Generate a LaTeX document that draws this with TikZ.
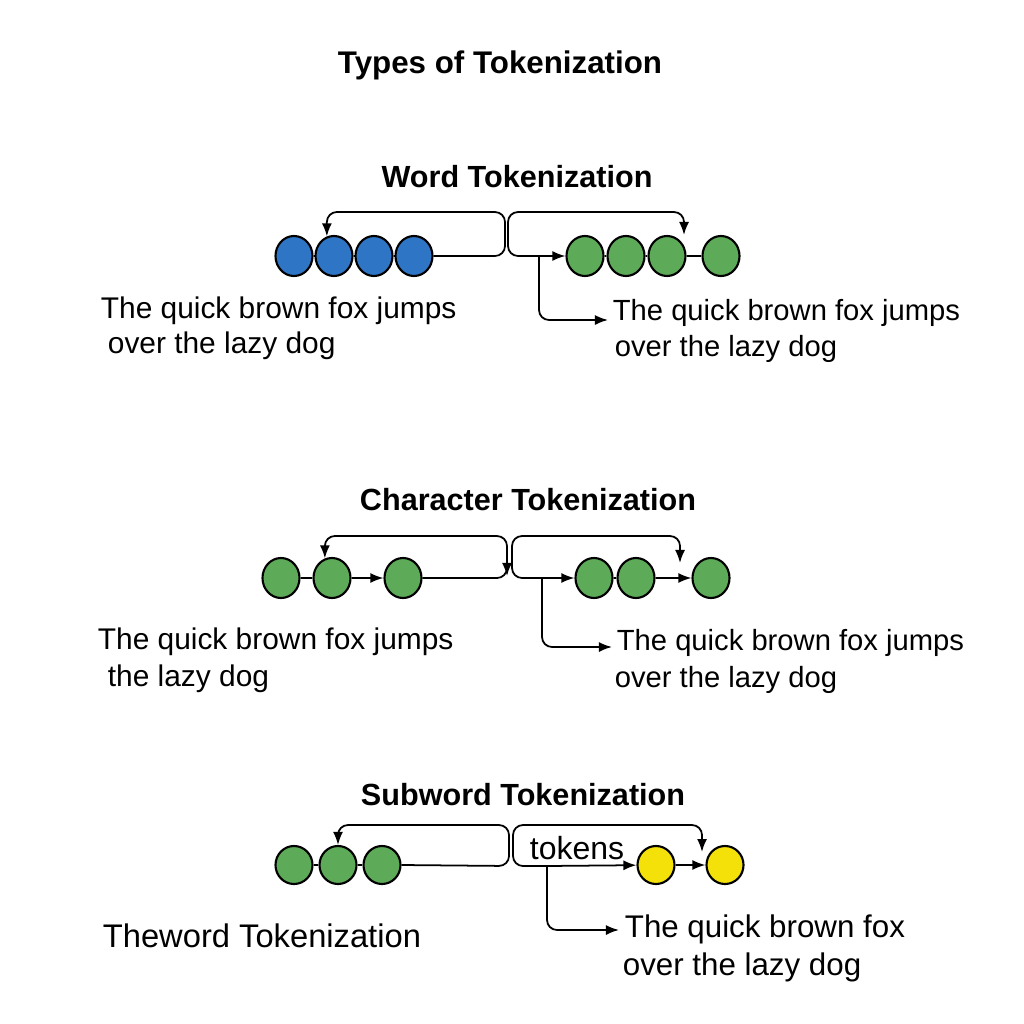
\documentclass[tikz,border=0pt]{standalone}
\usepackage{fontspec}
\setmainfont{Liberation Sans}
\usetikzlibrary{shapes.geometric, arrows.meta}
\definecolor{tokblue}{HTML}{2F75C6}
\definecolor{tokgreen}{HTML}{5DAA58}
\definecolor{tokyellow}{HTML}{F5E10A}

\begin{document}
\begin{tikzpicture}[x=0.01cm, y=-0.01cm, line width=0.5pt,
                    >={Latex[length=0.13cm, width=0.1cm]},
                    tok/.style = {draw, ellipse, inner sep=0pt, line width=0.6pt,
                        minimum width=0.37cm, minimum height=0.40cm},
                    hd/.style = {font=\bfseries\fontsize{8.7pt}{10pt}\selectfont, anchor=base},
                    txt/.style = {font=\fontsize{8.5pt}{10pt}\selectfont, anchor=base west,
                        inner sep=0pt},
                    roundpath/.style = {rounded corners=0.1cm}]
        \useasboundingbox (0,0) rectangle (1024,1024);
        \node[hd, font=\bfseries\fontsize{8.9pt}{10pt}\selectfont] (title) at (500,73) {Types of Tokenization};

        % word tokenization
        \node[hd] (wordhd) at (517,187) {Word Tokenization};
        \foreach \x [count=\i] in {294,334,374,414}
            \node[tok, fill=tokblue] (w\i) at (\x,256) {};
        \foreach \x [count=\i] in {585,626,667,721}
            \node[tok, fill=tokgreen] (g\i) at (\x,256) {};
        \draw (w1) -- (w2) (w2) -- (w3) (w3) -- (w4);
        \draw (g1) -- (g2) (g2) -- (g3) (g3) -- (g4);
        \coordinate (wj) at (539,256);
        \coordinate (wtip) at (684,235);
        \draw[->, roundpath] (w4.east) -- (505,256) -- (505,212) -| (w2.110);
        \draw[->, roundpath] (wj) -- (508,256) -- (508,212) -- (684,212) -- (wtip);
        \draw[->] (wj) -- (g1);

        \node[txt] (wLa) at (100,318) {The quick brown fox jumps};
        \node[txt] (wLb) at (107,353) {over the lazy dog};
        \node[txt, font=\fontsize{8.3pt}{10pt}\selectfont] (wRa) at (612,320) {The quick brown fox jumps};
        \node[txt, font=\fontsize{8.3pt}{10pt}\selectfont] (wRb) at (614,356) {over the lazy dog};
        \draw[->, roundpath] (wj) |- ([xshift=-0.04cm]wRa.base west);

        % character tokenization
        \node[hd] (charhd) at (528,510) {Character Tokenization};
        \foreach \x [count=\i] in {281,332,403}
            \node[tok, fill=tokgreen] (c\i) at (\x,578) {};
        \foreach \x [count=\i] in {594,636,711}
            \node[tok, fill=tokgreen] (r\i) at (\x,578) {};
        \draw (c1) -- (c2);
        \draw[->] (c2) -- (c3);
        \draw (r1) -- (r2);
        \draw[->] (r2) -- (r3);
        \coordinate (cj) at (542,578);
        \coordinate (ctip) at (680,563);
        \draw[<->, roundpath] (c2.110) |- (507,536) -- (507,576);
        \draw[roundpath] (c3.east) -- (507,578) -- (507,562);
        \draw[->, roundpath] (cj) -- (512,578) -- (512,536) -- (680,536) -- (ctip);
        \draw[->] (cj) -- (r1);

        \node[txt] (cLa) at (97,649) {The quick brown fox jumps};
        \node[txt] (cLb) at (107,686) {the lazy dog};
        \node[txt, font=\fontsize{8.3pt}{10pt}\selectfont] (cRa) at (616,650) {The quick brown fox jumps};
        \node[txt, font=\fontsize{8.3pt}{10pt}\selectfont] (cRb) at (614,687) {over the lazy dog};
        \draw[->, roundpath] (cj) |- ([xshift=-0.04cm, yshift=0.03cm]cRa.base west);

        % subword tokenization
        \node[hd] (subhd) at (523,805) {Subword Tokenization};
        \foreach \x [count=\i] in {294,338,382}
            \node[tok, fill=tokgreen, minimum height=0.38cm] (s\i) at (\x,865) {};
        \foreach \x [count=\i] in {656,725}
            \node[tok, fill=tokyellow, minimum height=0.38cm] (y\i) at (\x,865) {};
        \draw (s1) -- (s2) (s2) -- (s3);
        \draw[->] (y1) -- (y2);
        \coordinate (sj) at (547,866);
        \coordinate (stip) at (702,852);
        \draw[->, roundpath] (s3.east) -- (509,866) -- (509,825) -| (s2.north);
        \draw[->, roundpath] (sj) -- (513,866) -- (513,825) -- (702,825) -- (stip);
        \draw[->] (sj) -- (y1);
        \node[font=\fontsize{9.1pt}{10pt}\selectfont] (tokens) at (577,848) {tokens};

        \node[txt, font=\fontsize{9.3pt}{10pt}\selectfont] (sLa) at (102,947) {Theword Tokenization};
        \node[txt, font=\fontsize{8.9pt}{10pt}\selectfont] (sRa) at (624,937) {The quick brown fox};
        \node[txt, font=\fontsize{8.9pt}{10pt}\selectfont] (sRb) at (622,975) {over the lazy dog};
        \draw[->, roundpath] (sj) |- ([xshift=-0.05cm, yshift=0.07cm]sRa.base west);
    \end{tikzpicture}
\end{document}
